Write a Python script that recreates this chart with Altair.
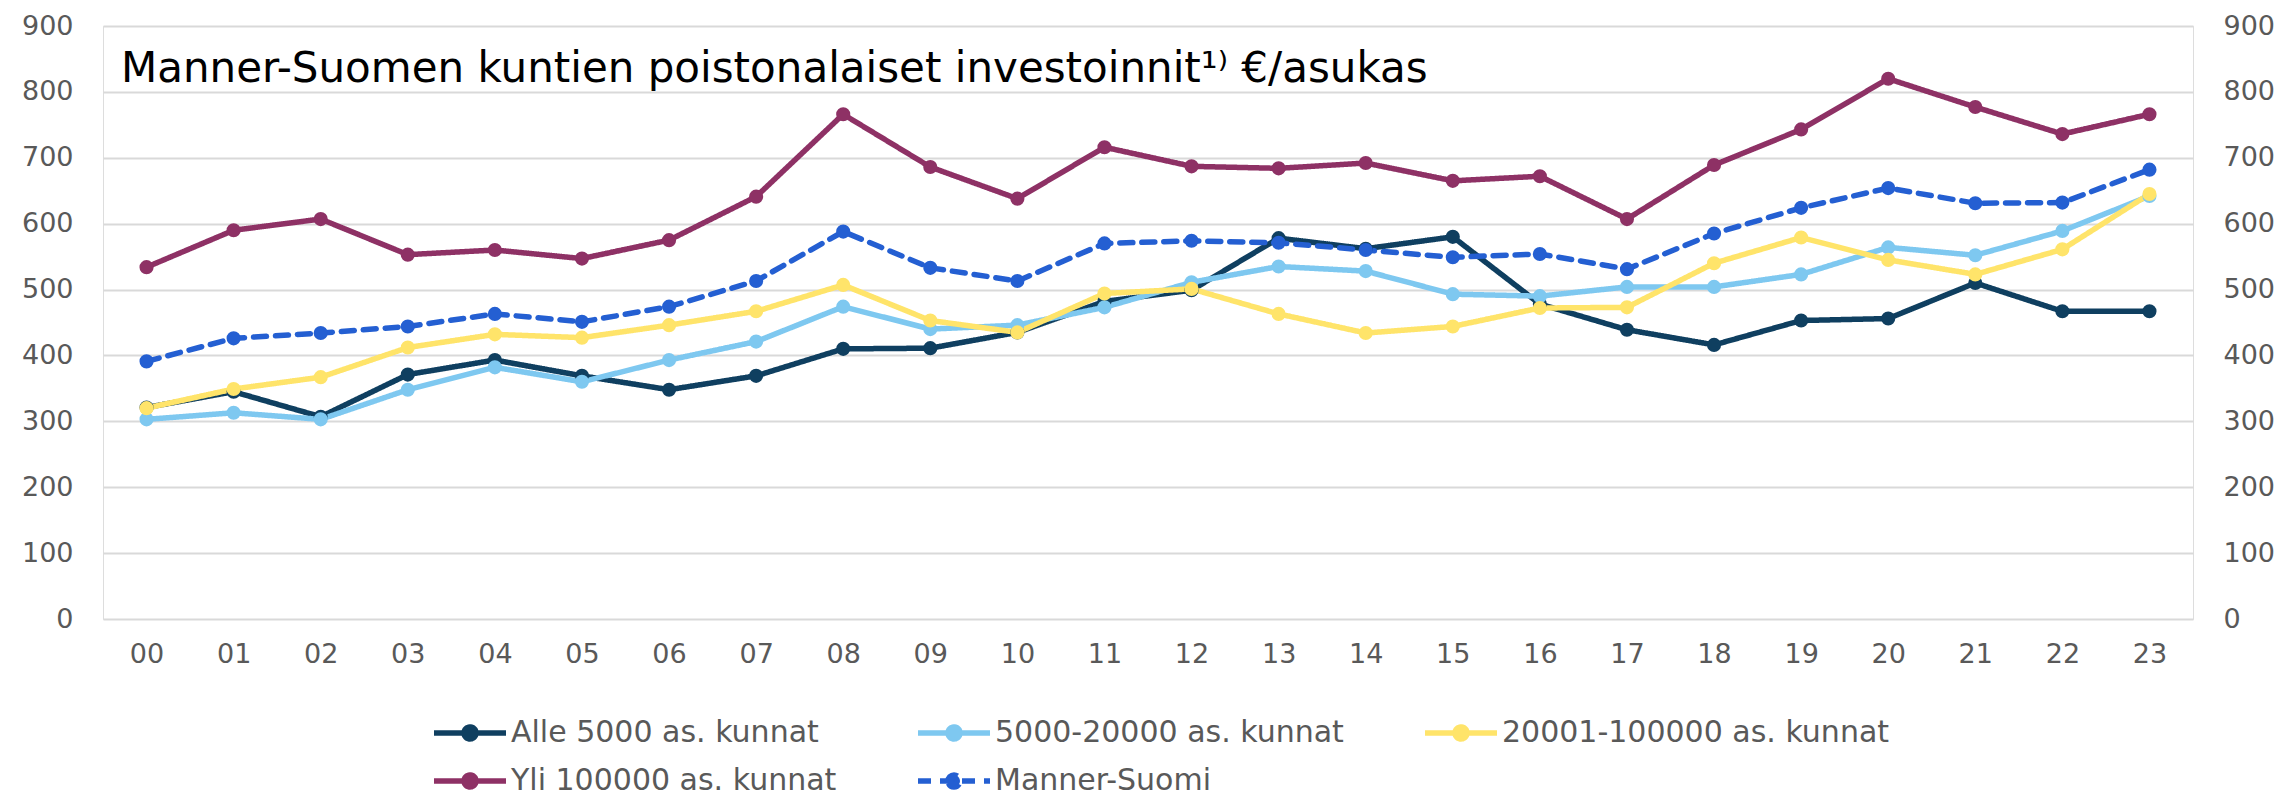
import altair as alt
import pandas as pd

years = ["00","01","02","03","04","05","06","07","08","09","10","11",
         "12","13","14","15","16","17","18","19","20","21","22","23"]

series_names = ["Alle 5000 as. kunnat", "5000-20000 as. kunnat", "20001-100000 as. kunnat",
                "Yli 100000 as. kunnat", "Manner-Suomi"]

alle_5000 = [321, 345, 307, 371, 393, 369, 348, 369, 410, 411, 435, 482,
             499, 578, 562, 580, 478, 439, 416, 453, 456, 510, 467, 467]
v_5000_20000 = [303, 313, 303, 348, 382, 360, 393, 421, 474, 440, 446, 473,
                511, 535, 528, 493, 490, 504, 504, 523, 564, 552, 589, 642]
v_20001_100000 = [320, 349, 367, 412, 432, 427, 446, 467, 507, 453, 435, 494,
                  501, 463, 434, 444, 472, 473, 540, 579, 545, 523, 561, 645]
yli_100000 = [534, 590, 607, 553, 560, 547, 575, 641, 766, 686, 638, 716,
              687, 684, 692, 665, 672, 607, 689, 743, 820, 777, 736, 766]
manner_suomi = [391, 426, 434, 444, 463, 451, 474, 513, 588, 533, 513, 570,
                574, 571, 560, 549, 554, 531, 585, 624, 654, 631, 632, 682]

title_text = "Manner-Suomen kuntien poistonalaiset investoinnit¹⁾ €/asukas"

colors = ["#0f3f60", "#7ec8f0", "#ffe46a", "#8e3165", "#245fd2"]
dashes = [[1, 0], [1, 0], [1, 0], [1, 0], [13, 9]]

rows = []
for name, vals in zip(series_names, [alle_5000, v_5000_20000, v_20001_100000, yli_100000, manner_suomi]):
    for yr, v in zip(years, vals):
        rows.append({"year": yr, "series": name, "value": v})
df = pd.DataFrame(rows)
title_df = pd.DataFrame({"t": [title_text]})

FONT = "DejaVu Sans"
GRAY = "#595959"

sym_path = ("M-1.8,0L1.8,0"
            "M-0.3,0A0.3,0.3,0,1,1,0.3,0A0.3,0.3,0,1,1,-0.3,0Z"
            "M-0.1,0A0.1,0.1,0,1,1,0.1,0A0.1,0.1,0,1,1,-0.1,0Z")

legend = alt.Legend(
    title=None, orient="none", legendX=328, legendY=684, direction="horizontal", columns=3,
    labelFont=FONT, labelFontSize=30, labelColor=GRAY, labelOffset=18,
    symbolType=sym_path, symbolSize=1600, symbolStrokeWidth=5.5, symbolOffset=16,
    columnPadding=70, rowPadding=8, labelLimit=600,
)

x_enc = alt.X("year:N", sort=years, title=None,
              axis=alt.Axis(labelFont=FONT, labelFontSize=27, labelColor=GRAY, labelAngle=0,
                            labelPadding=22, ticks=False, domain=False, grid=False))
y_scale = alt.Scale(domain=[0, 900], nice=False)
color_enc = alt.Color("series:N", sort=series_names,
                      scale=alt.Scale(domain=series_names, range=colors), legend=legend)
dash_enc = alt.StrokeDash("series:N", sort=series_names,
                          scale=alt.Scale(domain=series_names, range=dashes), legend=legend)

lines = alt.Chart(df).mark_line(strokeWidth=5.5, strokeCap="round").encode(
    x=x_enc,
    y=alt.Y("value:Q", scale=y_scale, title=None,
            axis=alt.Axis(orient="left", values=list(range(0, 901, 100)), labelFont=FONT,
                          labelFontSize=27, labelColor=GRAY, labelPadding=30, ticks=False,
                          domain=False, grid=True, gridColor="#d9d9d9", gridWidth=2)),
    color=color_enc,
    strokeDash=dash_enc,
    order=alt.Order("year:N"),
)

points = alt.Chart(df).mark_point(filled=True, size=200, opacity=1).encode(
    x=x_enc,
    y=alt.Y("value:Q", scale=y_scale, title=None,
            axis=alt.Axis(orient="right", values=list(range(0, 901, 100)), labelFont=FONT,
                          labelFontSize=27, labelColor=GRAY, labelPadding=30, ticks=False,
                          domain=False, grid=False)),
    color=color_enc,
)

title_mark = alt.Chart(title_df).mark_text(
    align="left", baseline="alphabetic", font=FONT, fontSize=42, color="#000000"
).encode(x=alt.value(18), y=alt.value(56), text="t:N")

chart = alt.layer(lines, points, title_mark).resolve_axis(y="independent").properties(
    width=2090, height=593,
    autosize=alt.AutoSizeParams(type="none"),
    padding={"left": 95, "top": 18, "right": 83, "bottom": 180},
).configure_view(
    stroke="transparent", strokeWidth=0, strokeOpacity=0
).configure_axis(
    domain=False, domainOpacity=0, ticks=False
).configure(background="#ffffff")

chart.save("out.html", embed_options={"renderer": "svg", "actions": False})
